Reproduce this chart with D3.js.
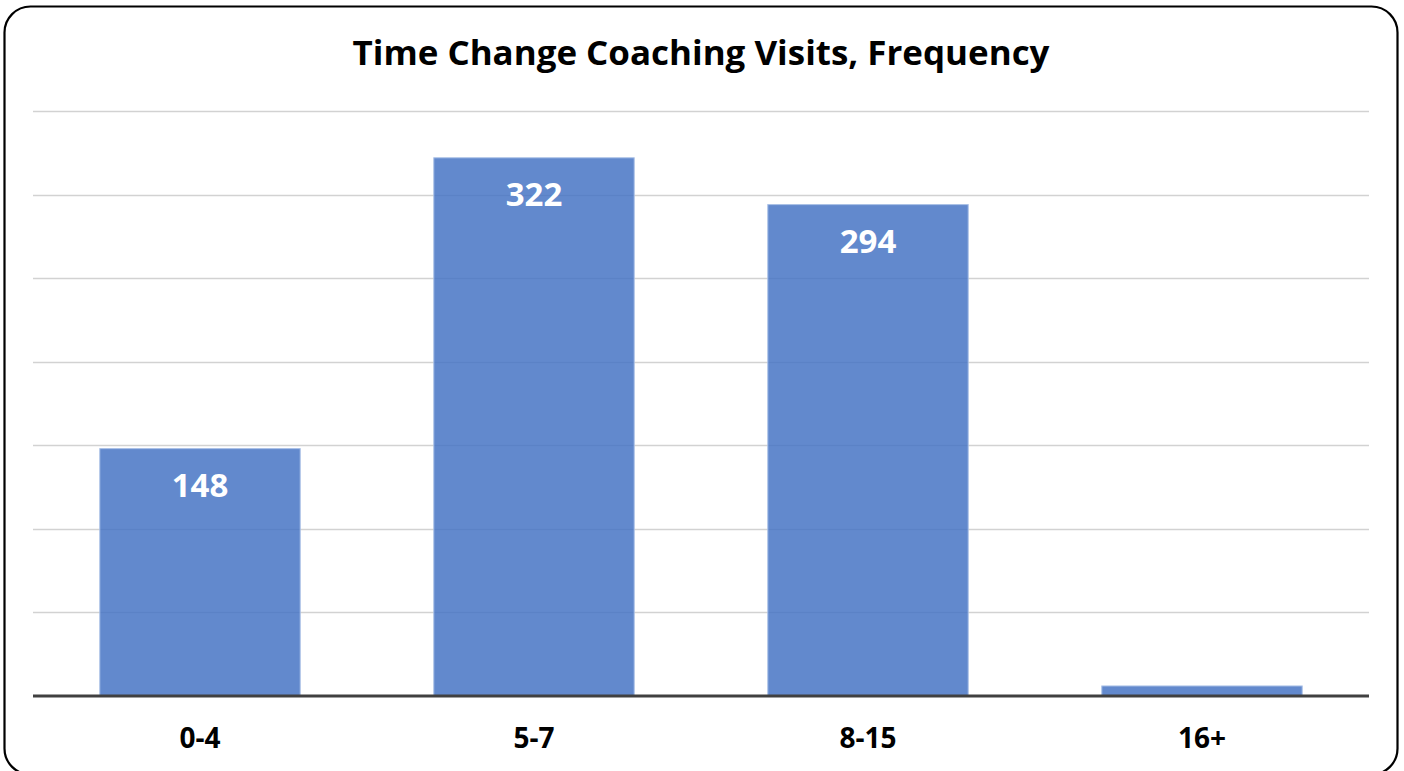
<!DOCTYPE html>
<html>
<head>
<meta charset="utf-8">
<script src="https://cdn.jsdelivr.net/npm/d3@7/dist/d3.min.js"></script>
<style>
  html, body { margin: 0; padding: 0; background: #fff; }
  svg { display: block; }
</style>
</head>
<body>
<svg id="chart" width="1404" height="771"></svg>
<script>
// Visit-count buckets and how many teachers fell into each
const categories = ["0-4", "5-7", "8-15", "16+"];
const frequencies = [148, 322, 294, 6];
const yTicks = [0, 50, 100, 150, 200, 250, 300, 350];
const title = "Time Change Coaching Visits, Frequency";

const svg = d3.select("#chart");
const plot = { left: 33, right: 1369, top: 111, bottom: 696 };

// Rounded frame around the chart (its lower edge runs just past the canvas)
svg.append("rect")
  .attr("x", 4.5).attr("y", 6.5)
  .attr("width", 1393).attr("height", 768)
  .attr("rx", 26).attr("ry", 26)
  .attr("fill", "#fff")
  .attr("stroke", "#000")
  .attr("stroke-width", 2.2);

const x = d3.scaleBand()
  .domain(categories)
  .range([plot.left, plot.right])
  .paddingInner(0.4)
  .paddingOuter(0.2);

const y = d3.scaleLinear()
  .domain([0, 350])
  .range([plot.bottom, plot.top]);

// Horizontal gridlines
svg.append("g")
  .selectAll("line")
  .data(yTicks.filter(d => d > 0))
  .join("line")
  .attr("x1", plot.left).attr("x2", plot.right)
  .attr("y1", d => Math.round(y(d)) + 0.5)
  .attr("y2", d => Math.round(y(d)) + 0.5)
  .attr("stroke", "#d2d2d2")
  .attr("stroke-width", 1.3);

// Bars
svg.append("g")
  .selectAll("rect")
  .data(frequencies)
  .join("rect")
  .attr("x", (d, i) => x(categories[i]))
  .attr("width", x.bandwidth())
  .attr("y", d => y(d))
  .attr("height", d => y(0) - y(d))
  .attr("fill", "#4472c4")
  .attr("fill-opacity", 0.84)
  .attr("stroke", "#a8bfe6")
  .attr("stroke-width", 1);

// Value labels inside the top of each bar (small bars left unlabeled)
svg.append("g")
  .selectAll("text")
  .data(frequencies.filter(d => d > 50))
  .join("text")
  .attr("x", d => x(categories[frequencies.indexOf(d)]) + x.bandwidth() / 2)
  .attr("y", d => y(d) + 48)
  .attr("text-anchor", "middle")
  .attr("font-family", "'Open Sans', sans-serif")
  .attr("font-weight", 700)
  .attr("font-size", 33)
  .attr("fill", "#fff")
  .text(d => d);

// Baseline axis
svg.append("line")
  .attr("x1", plot.left).attr("x2", plot.right)
  .attr("y1", y(0)).attr("y2", y(0))
  .attr("stroke", "#404040")
  .attr("stroke-width", 3);

// Category labels
const xAxis = d3.axisBottom(x).tickSize(0).tickPadding(0);
const gx = svg.append("g")
  .attr("transform", `translate(0, ${y(0)})`)
  .call(xAxis);
gx.select(".domain").remove();
gx.selectAll("text")
  .attr("dy", null)
  .attr("y", 52)
  .attr("font-family", "'Open Sans', sans-serif")
  .attr("font-weight", 700)
  .attr("font-size", 28)
  .attr("fill", "#000");

// Title
svg.append("text")
  .attr("x", 701)
  .attr("y", 65)
  .attr("text-anchor", "middle")
  .attr("font-family", "'Open Sans', sans-serif")
  .attr("font-weight", 700)
  .attr("font-size", 34)
  .attr("textLength", 697)
  .attr("lengthAdjust", "spacingAndGlyphs")
  .attr("fill", "#000")
  .text(title);
</script>
</body>
</html>
